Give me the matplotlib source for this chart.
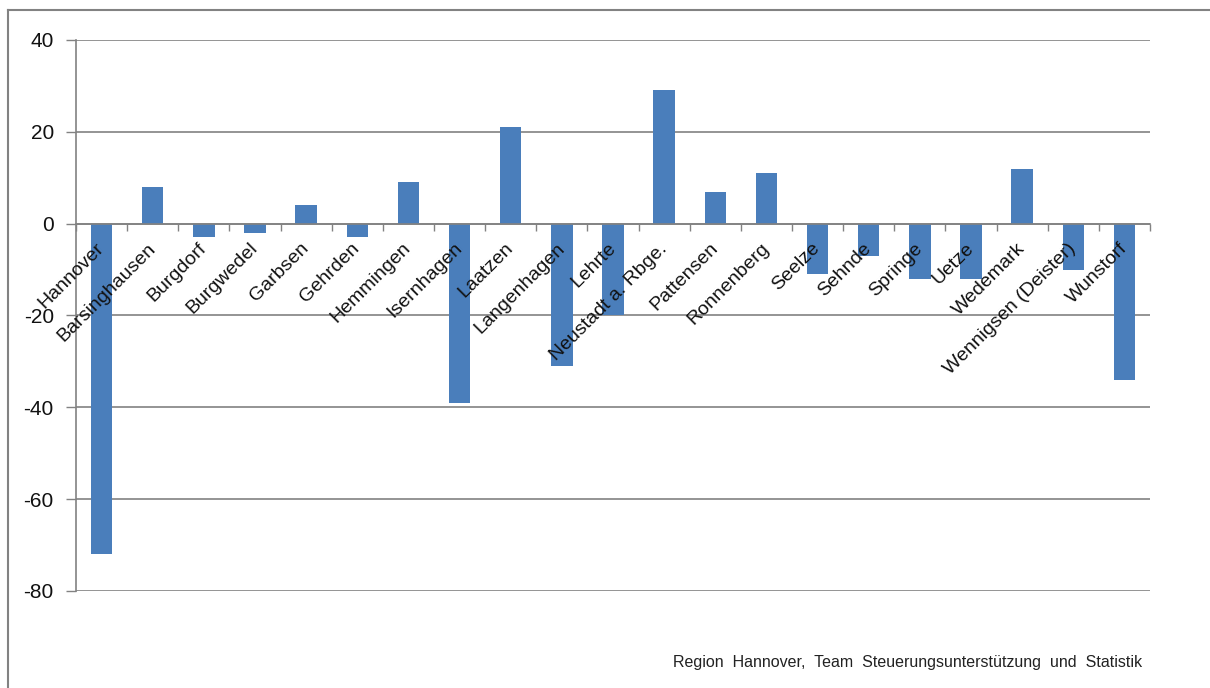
import matplotlib.pyplot as plt
from matplotlib.lines import Line2D
import numpy as np

plt.rcParams['font.family'] = ['Liberation Sans', 'DejaVu Sans']
plt.rcParams['axes.unicode_minus'] = False

# Saldo je Kommune
kommunen = [
    "Hannover", "Barsinghausen", "Burgdorf", "Burgwedel", "Garbsen",
    "Gehrden", "Hemmingen", "Isernhagen", "Laatzen", "Langenhagen",
    "Lehrte", "Neustadt a. Rbge.", "Pattensen", "Ronnenberg", "Seelze",
    "Sehnde", "Springe", "Uetze", "Wedemark", "Wennigsen (Deister)",
    "Wunstorf",
]
saldo = [-72, 8, -3, -2, 4, -3, 9, -39, 21, -31, -20, 29, 7, 11, -11,
         -7, -12, -12, 12, -10, -34]

quelle = "Region  Hannover,  Team  Steuerungsunterstützung  und  Statistik"

fig = plt.figure(figsize=(12.1, 6.88), dpi=100)
ax = fig.add_axes([0.0628, 0.141, 0.8876, 0.8009])

x = np.arange(len(kommunen))
ax.bar(x, saldo, width=0.42, color="#4a7ebb", zorder=2)

ax.set_xlim(-0.5, len(kommunen) - 0.5)
ax.set_ylim(-80, 40)
ax.set_yticks(range(-80, 41, 20))
ax.yaxis.grid(True, color="#828282", linewidth=1.2, zorder=0)
ax.tick_params(axis="y", labelsize=15, length=7, width=1.0,
               color="#828282", pad=9, labelcolor="#111111")

# Kategorienachse auf der Nulllinie
for side in ("top", "right"):
    ax.spines[side].set_visible(False)
ax.spines["left"].set_color("#828282")
ax.spines["left"].set_linewidth(1.2)
ax.spines["bottom"].set_position(("data", 0))
ax.spines["bottom"].set_color("#828282")
ax.spines["bottom"].set_linewidth(1.2)
ax.spines["bottom"].set_zorder(3)

ax.set_xticks(x)
ax.set_xticks(np.arange(-0.5, len(kommunen), 1.0), minor=True)
ax.tick_params(axis="x", which="major", length=0, pad=16)
ax.tick_params(axis="x", which="minor", length=5, width=1.0,
               color="#828282")
ax.set_xticklabels(kommunen, rotation=45, ha="right", va="center",
                   rotation_mode="anchor", fontsize=14, color="#111111")
# Beschriftungen über den Balken
ax.xaxis.set_zorder(5)

# Rahmen des Diagramms
fig.add_artist(Line2D([8 / 1210, 8 / 1210], [0, 1 - 10 / 688],
                      transform=fig.transFigure, color="#828282", lw=1.5))
fig.add_artist(Line2D([8 / 1210, 1], [1 - 10 / 688, 1 - 10 / 688],
                      transform=fig.transFigure, color="#828282", lw=1.5))

fig.text(1142 / 1210, 1 - 663 / 688, quelle, ha="right", va="center",
         fontsize=11.5, color="#222222")

fig.savefig("out.png", dpi=100)
